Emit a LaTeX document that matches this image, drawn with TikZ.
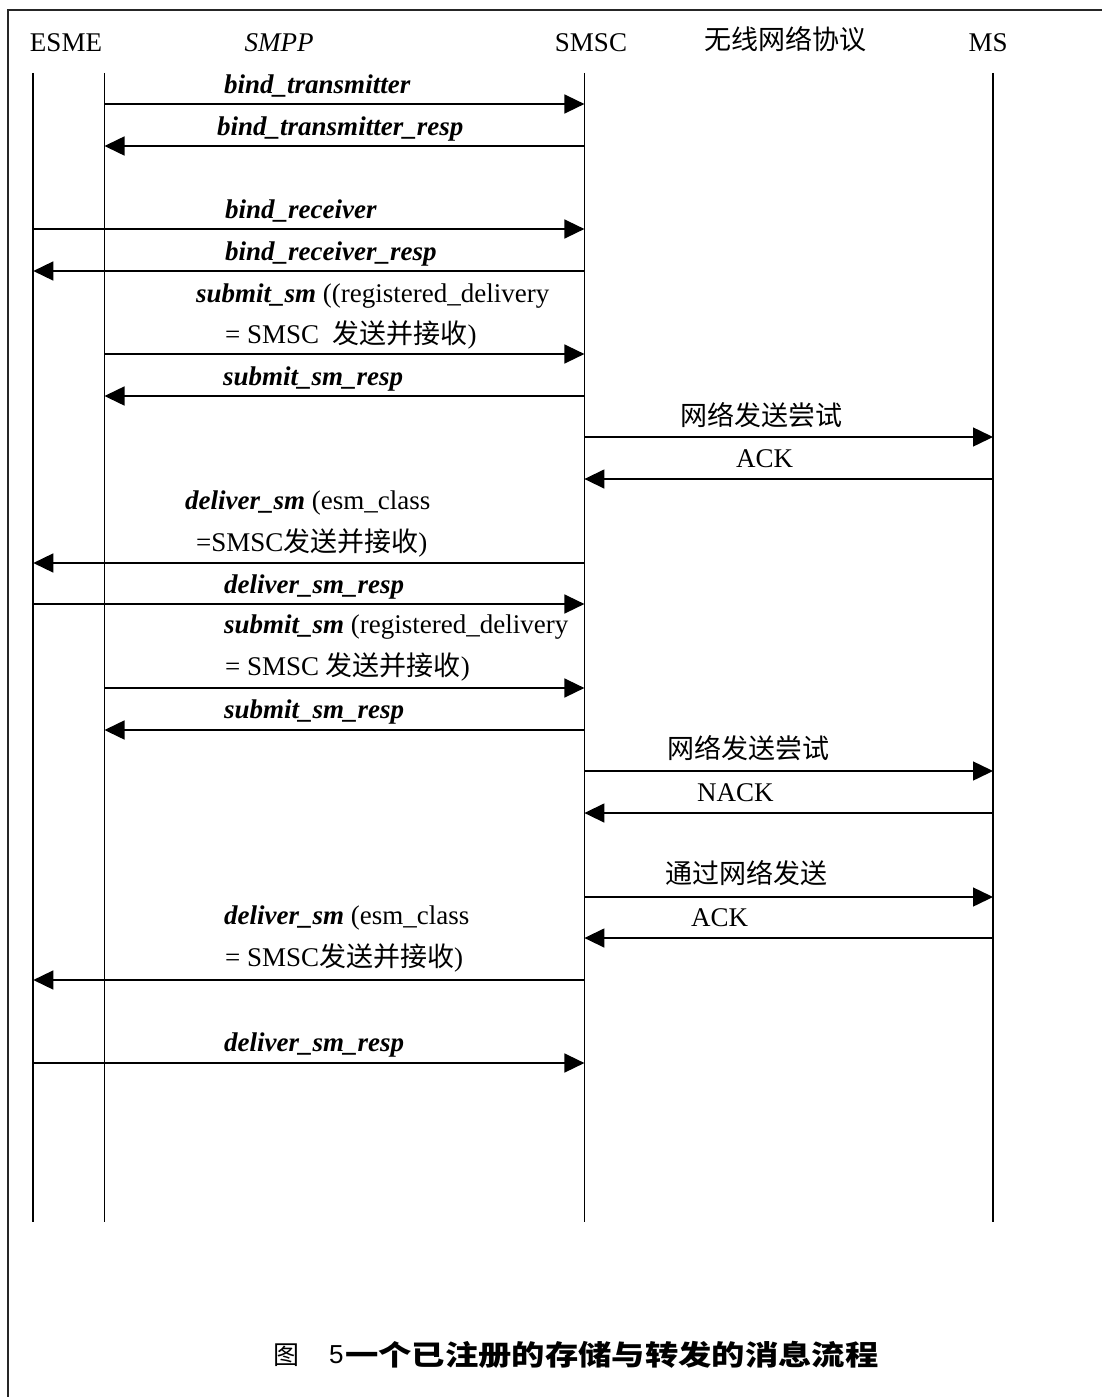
\documentclass[tikz,border=0pt]{standalone}
\usepackage{fontspec}
\usepackage{graphicx}
\setmainfont{Liberation Serif}
\newfontfamily\cjk{Noto Sans CJK SC}
\newfontfamily\capsans{Liberation Sans}
\usetikzlibrary{arrows.meta}
\newcommand{\bi}[1]{\textbf{\textit{#1}}}
\newcommand{\zh}[1]{{\cjk #1}}
\begin{document}
\begin{tikzpicture}[x=1pt,y=-1pt,
  frame/.style={line width=2pt,color=black!85},
  lifeline/.style={line width=1.7pt},
  msg/.style={line width=1.5pt,-{Triangle[length=20pt,width=19pt]}},
  lbl/.style={anchor=base west,inner sep=0pt,font=\fontsize{27}{32}\selectfont},
  hdr/.style={anchor=base,inner sep=0pt,font=\fontsize{27}{32}\selectfont}]
\useasboundingbox (0,0) rectangle (1102,1397);
\clip (0,0) rectangle (1102,1397);
% frame (only top and left visible)
\coordinate (fBL) at (8.4,1400);
\coordinate (fTL) at (8.4,10.5);
\coordinate (fTR) at (1110,10.5);
\draw[frame] (fBL) -- (fTL) -- (fTR);
% headers
\node[hdr] (hEsme) at (66,52) {ESME};
\node[hdr] (hSmpp) at (279,52) {\textit{SMPP}};
\node[hdr] (hSmsc) at (591,52) {SMSC};
\node[hdr] (hProt) at (785,50) {\zh{无线网络协议}};
\node[hdr] (hMs) at (988,52) {MS};
% lifelines
\coordinate (esmeT) at (33.3,73);  \coordinate (esmeB) at (33.3,1222);
\coordinate (smppT) at (104.5,73); \coordinate (smppB) at (104.5,1222);
\coordinate (smscT) at (584.4,73); \coordinate (smscB) at (584.4,1222);
\coordinate (msT) at (993,73);     \coordinate (msB) at (993,1222);
\draw[lifeline] (esmeT) -- (esmeB);
\draw[lifeline] (smppT) -- (smppB);
\draw[lifeline] (smscT) -- (smscB);
\draw[lifeline] (msT) -- (msB);
% messages
\draw[msg] (smppT |- 0,104) -- (smscT |- 0,104);
\node[lbl] (l1) at (224,93) {\bi{bind\_transmitter}};
\draw[msg] (smscT |- 0,146) -- (smppT |- 0,146);
\node[lbl] (l2) at (217,135) {\bi{bind\_transmitter\_resp}};
\draw[msg] (esmeT |- 0,229) -- (smscT |- 0,229);
\node[lbl] (l3) at (225,218) {\bi{bind\_receiver}};
\draw[msg] (smscT |- 0,271) -- (esmeT |- 0,271);
\node[lbl] (l4) at (225,260) {\bi{bind\_receiver\_resp}};
\draw[msg] (smppT |- 0,354) -- (smscT |- 0,354);
\node[lbl] (l5a) at (196,302) {\bi{submit\_sm} ((registered\_delivery};
\node[lbl] (l5b) at (225,343) {= SMSC\ \ \zh{发送并接收})};
\draw[msg] (smscT |- 0,396) -- (smppT |- 0,396);
\node[lbl] (l6) at (223,385) {\bi{submit\_sm\_resp}};
\draw[msg] (smscT |- 0,437) -- (msT |- 0,437);
\node[lbl] (l7) at (680,425) {\zh{网络发送尝试}};
\draw[msg] (msT |- 0,479) -- (smscT |- 0,479);
\node[lbl] (l8) at (736,467) {ACK};
\draw[msg] (smscT |- 0,563) -- (esmeT |- 0,563);
\node[lbl] (l9a) at (185,509) {\bi{deliver\_sm} (esm\_class};
\node[lbl] (l9b) at (196,551) {=SMSC\zh{发送并接收})};
\draw[msg] (esmeT |- 0,604) -- (smscT |- 0,604);
\node[lbl] (l10) at (224,593) {\bi{deliver\_sm\_resp}};
\draw[msg] (smppT |- 0,688) -- (smscT |- 0,688);
\node[lbl] (l11a) at (224,633) {\bi{submit\_sm} (registered\_delivery};
\node[lbl] (l11b) at (225,675) {= SMSC \zh{发送并接收})};
\draw[msg] (smscT |- 0,730) -- (smppT |- 0,730);
\node[lbl] (l12) at (224,718) {\bi{submit\_sm\_resp}};
\draw[msg] (smscT |- 0,771) -- (msT |- 0,771);
\node[lbl] (l13) at (667,758) {\zh{网络发送尝试}};
\draw[msg] (msT |- 0,813) -- (smscT |- 0,813);
\node[lbl] (l14) at (697,801) {NACK};
\draw[msg] (smscT |- 0,897) -- (msT |- 0,897);
\node[lbl] (l15) at (665,883) {\zh{通过网络发送}};
\draw[msg] (msT |- 0,938) -- (smscT |- 0,938);
\node[lbl] (l16) at (691,926) {ACK};
\draw[msg] (smscT |- 0,980) -- (esmeT |- 0,980);
\node[lbl] (l17a) at (224,924) {\bi{deliver\_sm} (esm\_class};
\node[lbl] (l17b) at (225,966) {= SMSC\zh{发送并接收})};
\draw[msg] (esmeT |- 0,1063) -- (smscT |- 0,1063);
\node[lbl] (l18) at (224,1051) {\bi{deliver\_sm\_resp}};
% caption
\node[anchor=west,inner sep=0pt,font=\fontsize{26}{30}\selectfont] (cap1) at (273,1355) {\zh{图}};
\node[anchor=west,inner sep=0pt,font=\fontsize{26}{30}\selectfont] (cap2) at (329,1355) {\capsans 5};
\node[anchor=west,inner sep=0pt,font=\fontsize{28}{32}\selectfont] (cap3) at (345,1355) {\scalebox{1.19}[1]{\cjk\bfseries 一个已注册的存储与转发的消息流程}};
\end{tikzpicture}
\end{document}
